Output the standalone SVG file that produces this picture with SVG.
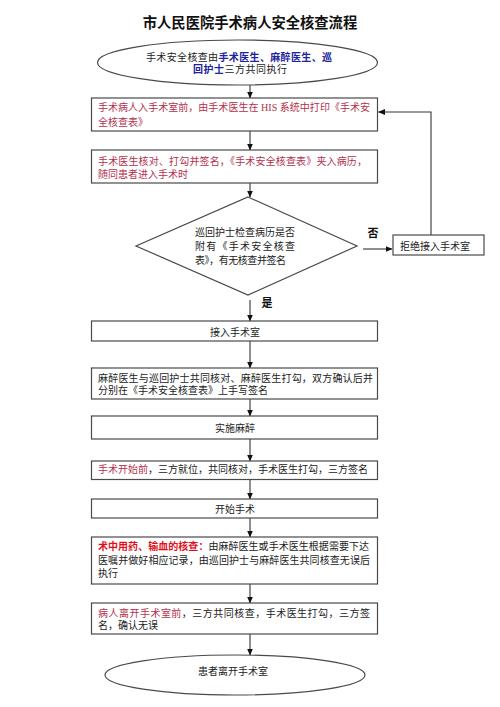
<svg xmlns="http://www.w3.org/2000/svg" width="500" height="707" viewBox="0 0 500 707">
<style>
.bg{fill:#ffffff}
.box{fill:#ffffff;stroke:#4a4a4a;stroke-width:1.2}
.t{font-family:'Liberation Serif','Noto Sans CJK SC',serif;font-size:10px;fill:#222222}
.c{text-anchor:middle}
.pk{fill:#b2304c}
.rd{fill:#e0101a;font-weight:bold}
.bl{fill:#22229a;font-weight:bold}
.lbl{font-family:'Liberation Sans','Noto Sans CJK SC',sans-serif;font-size:11px;font-weight:bold;fill:#111111;text-anchor:middle}
.title{font-family:'Liberation Sans','Noto Sans CJK SC',sans-serif;font-size:14.3px;font-weight:bold;fill:#111111;text-anchor:middle}
.ln{fill:none;stroke:#333333;stroke-width:1.1}
</style>
<defs>
<marker id="ah" markerUnits="userSpaceOnUse" markerWidth="7" markerHeight="6" refX="6.5" refY="3" orient="auto">
<path d="M0,0 L7,3 L0,6 Z" fill="#111111"/>
</marker>
</defs>
<rect class="bg" x="0" y="0" width="500" height="707"/>
<text class="title" x="250" y="28">市人民医院手术病人安全核查流程</text>

<g id="connectors">
<line class="ln" x1="250" y1="85" x2="250" y2="98" marker-end="url(#ah)"/>
<line class="ln" x1="250" y1="131" x2="250" y2="150" marker-end="url(#ah)"/>
<line class="ln" x1="250" y1="183" x2="250" y2="197" marker-end="url(#ah)"/>
<line class="ln" x1="363" y1="249" x2="392" y2="249" marker-end="url(#ah)"/>
<path class="ln" d="M431,235 V112 H378.5" marker-end="url(#ah)"/>
<line class="ln" x1="250" y1="300" x2="250" y2="321" marker-end="url(#ah)"/>
<line class="ln" x1="250" y1="341" x2="250" y2="368" marker-end="url(#ah)"/>
<line class="ln" x1="250" y1="399" x2="250" y2="416" marker-end="url(#ah)"/>
<line class="ln" x1="250" y1="439" x2="250" y2="461" marker-end="url(#ah)"/>
<line class="ln" x1="250" y1="479" x2="250" y2="499" marker-end="url(#ah)"/>
<line class="ln" x1="250" y1="518" x2="250" y2="537" marker-end="url(#ah)"/>
<line class="ln" x1="250" y1="584" x2="250" y2="603" marker-end="url(#ah)"/>
<line class="ln" x1="250" y1="634" x2="250" y2="655" marker-end="url(#ah)"/>
<text class="lbl" x="373" y="237">否</text>
<text class="lbl" x="267" y="307">是</text>
</g>

<g id="start">
<ellipse class="box" cx="237.5" cy="62.5" rx="140" ry="22.5"/>
<text class="t" x="146" y="60.5" textLength="186" lengthAdjust="spacing">手术安全核查由<tspan class="bl">手术医生、麻醉医生、巡</tspan></text>
<text class="t" x="193" y="72.8" textLength="94" lengthAdjust="spacing"><tspan class="bl">回护士</tspan>三方共同执行</text>
</g>

<g id="print">
<rect class="box" x="91.5" y="98" width="286" height="33"/>
<text class="t pk" x="98" y="110.5" textLength="272" lengthAdjust="spacing">手术病人入手术室前，由手术医生在 HIS 系统中打印《手术安</text>
<text class="t pk" x="98" y="125.5">全核查表》</text>
</g>

<g id="doctor-check">
<rect class="box" x="91.5" y="150" width="286" height="33"/>
<text class="t pk" x="98" y="164.8" textLength="269" lengthAdjust="spacing">手术医生核对、打勾并签名，《手术安全核查表》夹入病历，</text>
<text class="t pk" x="98" y="178">随同患者进入手术时</text>
</g>

<g id="decision">
<polygon class="box" points="248,197 357,246 248,295 136,246"/>
<text class="t" x="195" y="235.5" textLength="100" lengthAdjust="spacing">巡回护士检查病历是否</text>
<text class="t" x="195" y="249.8" textLength="100" lengthAdjust="spacing">附有《手术安全核查</text>
<text class="t" x="195" y="263.8" textLength="91" lengthAdjust="spacing">表》，有无核查并签名</text>
</g>

<g id="reject">
<rect class="box" x="393" y="235" width="91" height="20"/>
<text class="t c" x="435" y="249.5">拒绝接入手术室</text>
</g>

<g id="admit">
<rect class="box" x="91.5" y="321" width="286" height="20"/>
<text class="t c" x="235" y="335.8">接入手术室</text>
</g>

<g id="anesthesia-check">
<rect class="box" x="91.5" y="368" width="286" height="31"/>
<text class="t" x="98" y="381.8" textLength="275" lengthAdjust="spacing">麻醉医生与巡回护士共同核对、麻醉医生打勾，双方确认后并</text>
<text class="t" x="98" y="393.8">分别在《手术安全核查表》上手写签名</text>
</g>

<g id="anesthesia">
<rect class="box" x="91.5" y="416" width="286" height="23"/>
<text class="t c" x="235" y="431.8">实施麻醉</text>
</g>

<g id="pre-op">
<rect class="box" x="91.5" y="461" width="286" height="18.5"/>
<text class="t" x="98" y="473.2" textLength="270" lengthAdjust="spacing"><tspan class="pk">手术开始前</tspan>，三方就位，共同核对，手术医生打勾，三方签名</text>
</g>

<g id="surgery">
<rect class="box" x="91.5" y="499" width="286" height="19"/>
<text class="t c" x="235" y="512.8">开始手术</text>
</g>

<g id="intra-op">
<rect class="box" x="91.5" y="537" width="286" height="47"/>
<text class="t" x="98" y="550" textLength="271" lengthAdjust="spacing"><tspan class="rd">术中用药、输血的核查：</tspan>由麻醉医生或手术医生根据需要下达</text>
<text class="t" x="98" y="563.5" textLength="272" lengthAdjust="spacing">医嘱并做好相应记录，由巡回护士与麻醉医生共同核查无误后</text>
<text class="t" x="98" y="576.5">执行</text>
</g>

<g id="post-op">
<rect class="box" x="91.5" y="603" width="286" height="31"/>
<text class="t" x="98" y="617" textLength="272" lengthAdjust="spacing"><tspan class="pk">病人离开手术室前</tspan>，三方共同核查，手术医生打勾，三方签</text>
<text class="t" x="98" y="628.8">名，确认无误</text>
</g>

<g id="end">
<ellipse class="box" cx="235" cy="675" rx="130" ry="20"/>
<text class="t c" x="233" y="674.8">患者离开手术室</text>
</g>
</svg>
